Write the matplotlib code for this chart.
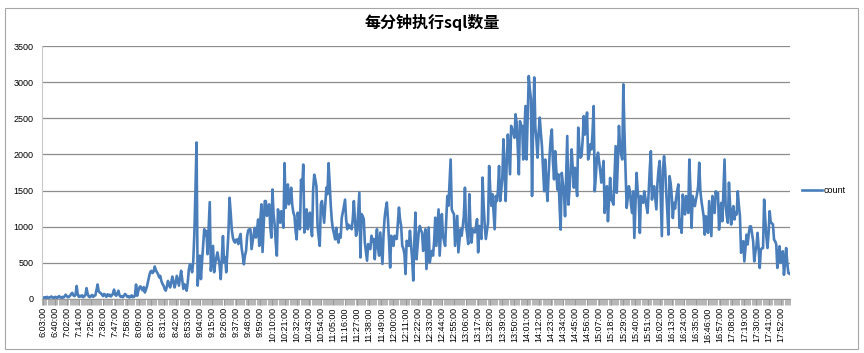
"""SQL executions per minute, one working day."""

import matplotlib

matplotlib.use("Agg")
import matplotlib.pyplot as plt
import numpy as np
from matplotlib.patches import Rectangle

# counts per minute, split into blocks so they are easier to read against the picture
counts_0603_0826 = [
    20, 15, 25, 10, 30, 20, 15, 25, 35, 20, 10, 25, 30, 15, 20, 40, 25, 15, 30, 20, 35,
    60, 40, 25, 30, 45, 70, 85, 50, 40, 60,
    180,
    60, 30, 45, 35, 50, 25, 40, 55,
    150,
    70, 35, 25, 40, 55, 30, 45, 50,
    120, 200, 110,
    90, 80, 60,
    40, 70, 55, 30, 65, 45, 60, 35, 50, 75,
    130,
    60, 45, 80,
    115,
    50, 30, 40, 25, 45, 70,
    55, 30, 40, 20, 35, 50, 25, 30, 45,
    200,
    45, 110, 160,
    175, 140, 120, 165,
    90, 130, 180, 250, 320, 375,
    390, 360, 380, 450, 400, 370,
    345, 300, 320, 250, 210,
    185, 140, 115, 170,
    250, 200, 160, 230, 310,
    240, 160, 220, 320, 250,
    185, 300, 390, 260, 140,
    205, 170, 115, 230, 410,
    480, 430, 370, 520, 900, 1500,
]
counts_0827_1049 = [
    2165, 185, 420, 600, 275, 520, 735, 965, 880, 940,
    620, 980, 1340, 390, 560, 735, 370, 500, 575, 645,
    550, 460, 275, 560, 870, 505, 580, 370, 640, 920,
    1400, 1200, 965, 850, 800, 780, 820, 825, 760, 850,
    900, 700, 600, 480, 600, 665, 870, 950, 965, 965,
    690, 800, 900, 985, 850, 960, 1100, 735, 1100, 1310,
    650, 1000, 1355, 1355, 1150, 1250, 1310, 1000, 850, 1515,
    1170, 1030, 780, 600, 1240, 1150, 1055, 1215, 1100, 985,
    1880, 1260, 1400, 1585, 1310, 1400, 1540, 1300, 1195, 1150,
    950, 825, 1195, 1050, 965, 1650, 1500, 1860, 920, 1100,
    1240, 965, 1050, 1195, 1000, 870, 1515, 1720, 1650, 1560,
    1010, 860, 735, 1310, 1355, 1200, 1055, 1310, 1540, 1450,
    1880, 1605, 1300, 1080, 965, 900, 825, 985, 850, 780,
    895, 850, 1125, 1200, 1285, 1375, 1100, 965, 1030, 985,
]
counts_1050_1309 = [
    1010, 965, 1100, 1355, 1100, 875, 945, 1200, 1470, 575,
    1175, 1150, 1105, 780, 650, 530, 760, 700, 690, 875,
    800, 830, 550, 800, 965, 700, 600, 920, 700, 485,
    900, 1125, 1250, 1335, 1105, 800, 435, 875, 800, 735,
    875, 850, 830, 1050, 1265, 1100, 1010, 735, 700, 620,
    345, 805, 780, 735, 945, 750, 550, 255, 800, 1195,
    550, 750, 920, 1010, 950, 920, 665, 800, 965, 415,
    700, 990, 505, 600, 665, 600, 800, 1125, 735, 1000,
    1240, 600, 900, 1175, 875, 800, 735, 1100, 1425, 1290,
    1600, 1930, 1240, 1200, 1175, 735, 950, 1150, 645, 800,
    965, 875, 1000, 1150, 1540, 1010, 900, 760, 1450, 1000,
    780, 965, 950, 920, 1000, 1105, 645, 1010, 900, 830,
    1680, 1300, 1010, 830, 950, 1060, 1840, 1500, 1290, 1450,
    1200, 965, 1425, 1355, 1500, 1840, 1355, 1500, 1680, 2210,
]
counts_1310_1519 = [
    1800, 1355, 1900, 2275, 2000, 1725, 2395, 2345, 2300, 2230,
    2555, 2440, 2100, 1725, 2460, 2400, 2395, 1930, 2300, 2670,
    1930, 2500, 3085, 2900, 2765, 1425, 2400, 3065, 2370, 2200,
    1955, 2300, 2510, 2300, 2115, 1800, 1490, 1930, 1600, 1355,
    1700, 2000, 2230, 2345, 1900, 1655, 2045, 1800, 1515, 1725,
    1300, 960, 1745, 1600, 1470, 1145, 1700, 2255, 1305, 1500,
    1770, 2070, 1800, 1540, 1815, 1600, 1425, 2370, 2100, 1955,
    1975, 2200, 2530, 2275, 2400, 2580, 1930, 2000, 2140, 2070,
    2300, 2670, 1490, 1700, 1955, 2025, 1900, 1770, 1610, 1750,
    1910, 1190, 1400, 1560, 1075, 1400, 1675, 1375, 1350, 1305,
    1700, 2115, 1470, 1900, 2395, 2115, 2000, 1930, 2970, 2300,
    1790, 1260, 1400, 1560, 1490, 1300, 1190, 1490, 845, 1300,
    1745, 1500, 1375, 915, 1425, 1380, 1330, 1490, 1400, 1285,
]
counts_1520_1759 = [
    1190, 1470, 1790, 2045, 1375, 1500, 1560, 1400, 1240, 1600,
    1790, 1910, 1400, 870, 1790, 1975, 1800, 1470, 1200, 890,
    1700, 1600, 1425, 1120, 1330, 1250, 1400, 1500, 1585, 985,
    1100, 915, 1445, 1300, 1170, 1425, 1300, 1190, 1930, 1500,
    985, 1425, 1350, 1285, 1375, 1450, 1560, 1885, 1500, 1355,
    1250, 1145, 890, 1145, 1000, 915, 1355, 1100, 870, 1425,
    1300, 1190, 1490, 1400, 1470, 960, 1200, 1330, 1075, 1500,
    1930, 1285, 1150, 1055, 1610, 1300, 1030, 1200, 1285, 1100,
    1200, 1170, 1490, 1300, 1145, 640, 700, 800, 520, 700,
    890, 755, 900, 1005, 1005, 900, 800, 520, 650, 730,
    915, 700, 430, 685, 700, 705, 1375, 1100, 870, 705,
    900, 1215, 1055, 1050, 1030, 820, 800, 755, 430, 600,
    730, 500, 600, 660, 335, 500, 705, 500, 360, 350,
]

time_labels = [
    "6:03:00", "6:40:00", "7:02:00", "7:14:00", "7:25:00", "7:36:00", "7:47:00",
    "7:58:00", "8:09:00", "8:20:00", "8:31:00", "8:42:00", "8:53:00", "9:04:00",
    "9:15:00", "9:26:00", "9:37:00", "9:48:00", "9:59:00", "10:10:00", "10:21:00",
    "10:32:00", "10:43:00", "10:54:00", "11:05:00", "11:16:00", "11:27:00",
    "11:38:00", "11:49:00", "12:00:00", "12:11:00", "12:22:00", "12:33:00",
    "12:44:00", "12:55:00", "13:06:00", "13:17:00", "13:28:00", "13:39:00",
    "13:50:00", "14:01:00", "14:12:00", "14:23:00", "14:34:00", "14:45:00",
    "14:56:00", "15:07:00", "15:18:00", "15:29:00", "15:40:00", "15:51:00",
    "16:02:00", "16:13:00", "16:24:00", "16:35:00", "16:46:00", "16:57:00",
    "17:08:00", "17:19:00", "17:30:00", "17:41:00", "17:52:00",
]
label_step = 11

counts = np.array(
    counts_0603_0826 + counts_0827_1049 + counts_1050_1309
    + counts_1310_1519 + counts_1520_1759
)
x = np.arange(len(counts))

plt.rcParams["font.family"] = ["Liberation Sans", "DejaVu Sans"]

fig = plt.figure(figsize=(8.64, 3.53), dpi=100)
ax = fig.add_axes([42 / 864, 54 / 353, 748 / 864, 253 / 353])

ax.plot(x, counts, color="#4a7ebb", lw=1.9, label="count", solid_joinstyle="round")

ax.set_xlim(-0.5, len(counts) - 0.5)
ax.set_ylim(0, 3500)
ax.set_yticks(np.arange(0, 3501, 500))
ax.yaxis.grid(True, color="#8c8c8c", lw=0.9)
ax.set_axisbelow(True)
ax.tick_params(axis="y", length=0, labelsize=6.5, pad=6)

tick_pos = np.arange(len(time_labels)) * label_step
ax.set_xticks(tick_pos)
ax.set_xticklabels(time_labels, rotation=90, fontsize=6.5)
ax.set_xticks(np.arange(-0.5, len(counts), 1), minor=True)
ax.tick_params(axis="x", which="major", length=4, color="#999999", pad=2)
ax.tick_params(axis="x", which="minor", length=4, color="#999999", width=0.5)

for side in ("top", "right"):
    ax.spines[side].set_visible(False)
ax.spines["left"].set_color("#c8c8c8")
ax.spines["bottom"].set_color("#999999")

fig.text(0.5, 0.935, "每分钟执行sql数量", ha="center", va="center",
         fontsize=11.5, fontweight="bold", family=["Noto Sans CJK SC", "DejaVu Sans"])

ax.legend(loc="center left", bbox_to_anchor=(1.005, 0.43), frameon=False,
          fontsize=6.5, handlelength=2.2, handletextpad=0.2)

# outer chart frame
fig.patches.append(Rectangle((5 / 864, 4 / 353), 853 / 864, 341 / 353,
                             transform=fig.transFigure, fill=False,
                             edgecolor="#a6a6a6", lw=0.8))

fig.savefig("out.png", dpi=100)
